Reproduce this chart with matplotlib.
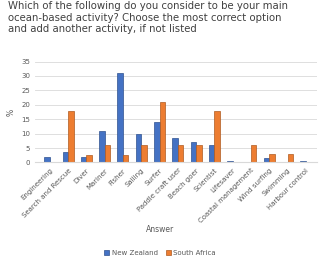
import matplotlib.pyplot as plt
import numpy as np

categories = ['Engineering', 'Search and Rescue', 'Diver', 'Mariner', 'Fisher',
              'Sailing', 'Surfer', 'Paddle craft user', 'Beach goer', 'Scientist',
              'Lifesaver', 'Coastal management', 'Wind surfing', 'Swimming',
              'Harbour control']
new_zealand = [2, 3.5, 2, 11, 31, 10, 14, 8.5, 7, 6, 0.5, 0, 1.5, 0, 0.5]
south_africa = [0, 18, 2.5, 6, 2.5, 6, 21, 6, 6, 18, 0, 6, 3, 3, 0]

fig = plt.figure(figsize=(3.2, 2.62), dpi=100)
ax = fig.add_axes([0.11, 0.38, 0.88, 0.385])

x = np.arange(len(categories))
w = 0.3
ax.bar(x - w / 2, new_zealand, w, color='#4472C4', edgecolor='#2F528F', linewidth=0.5,
       label='New Zealand')
ax.bar(x + w / 2, south_africa, w, color='#ED7D31', edgecolor='#AE5A21', linewidth=0.5,
       label='South Africa')

ax.set_ylim(0, 35)
ax.set_yticks(range(0, 36, 5))
ax.set_xlim(-0.8, len(categories) - 0.4)
ax.set_xticks(x)
ax.set_xticklabels(categories, rotation=45, ha='right', rotation_mode='anchor')
ax.tick_params(labelsize=5, colors='#595959', length=0)
ax.grid(axis='y', color='#D9D9D9', linewidth=0.6)
ax.set_axisbelow(True)
for s in ['top', 'right', 'left']:
    ax.spines[s].set_visible(False)
ax.spines['bottom'].set_color('#D9D9D9')

ax.set_ylabel('%', fontsize=5.5, color='#595959', labelpad=4)
fig.text(0.5, 0.115, 'Answer', fontsize=5.5, color='#595959', ha='center')

fig.text(0.025, 0.995, 'Which of the following do you consider to be your main\n'
         'ocean-based activity? Choose the most correct option\n'
         'and add another activity, if not listed',
         fontsize=7.3, color='#404040', ha='left', va='top', linespacing=1.15)

fig.legend(loc='lower center', ncol=2, fontsize=5, frameon=False,
           bbox_to_anchor=(0.5, 0.0), handlelength=0.8, handleheight=0.8,
           handletextpad=0.3, columnspacing=1.2, labelcolor='#595959')

plt.savefig('out.png', dpi=100)
